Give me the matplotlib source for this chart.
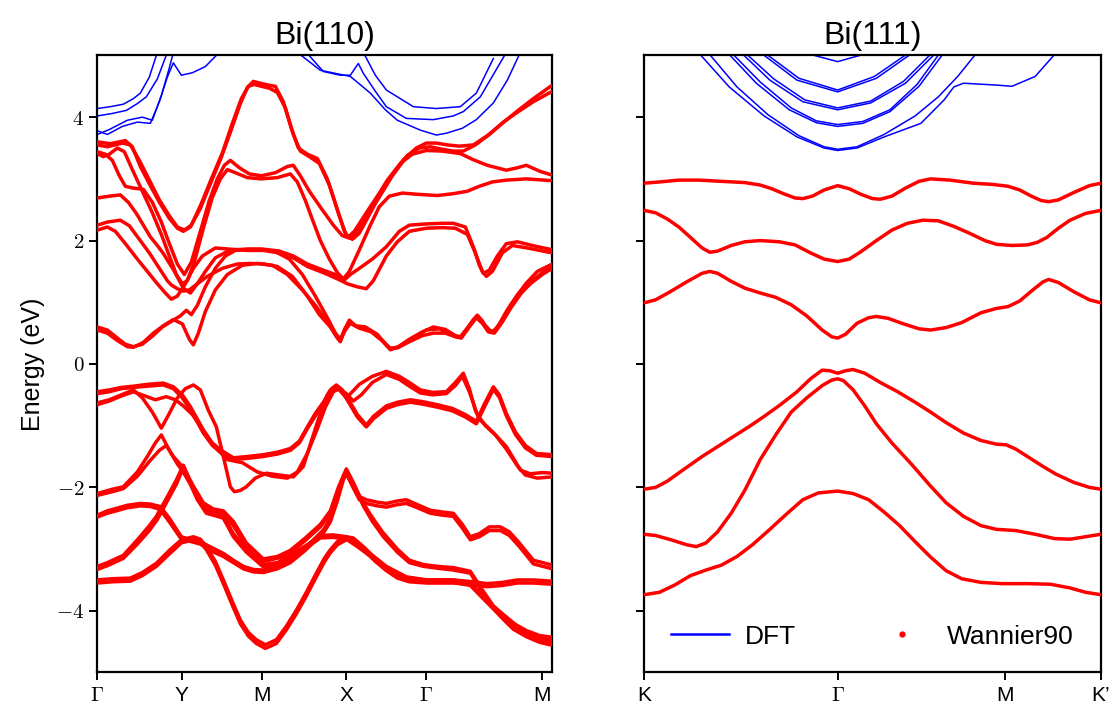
import matplotlib
matplotlib.use("Agg")
import matplotlib.pyplot as plt
from matplotlib.lines import Line2D

plt.rcParams['font.family'] = ['Liberation Sans', 'DejaVu Sans']
plt.rcParams['mathtext.fontset'] = 'cm'

# ---------------- Bi(110): path G-Y-M-X-G-M ----------------
k110_ticks = [0.0, 0.844, 1.644, 2.487, 3.287, 4.444]
k110_labels = [r'$\Gamma$', 'Y', 'M', 'X', r'$\Gamma$', 'M']
k110_end = 4.55

# DFT only bands (above the Wannier window)
b110_d1 = [(0, 4.14), (0.13, 4.17), (0.26, 4.21), (0.36, 4.30), (0.43, 4.39), (0.52, 4.65), (0.60, 5.05)]
b110_d2 = [(0, 4.02), (0.15, 4.06), (0.29, 4.11), (0.40, 4.22), (0.49, 4.33), (0.60, 4.62), (0.70, 5.05)]
b110_d3 = [(0, 3.78), (0.10, 3.72), (0.25, 3.85), (0.40, 3.92), (0.53, 3.90), (0.62, 4.25), (0.70, 4.65),
           (0.76, 4.88), (0.84, 4.68), (0.95, 4.72), (1.08, 4.82), (1.22, 5.05)]
b110_d4 = [(0, 3.72), (0.12, 3.80), (0.30, 3.95), (0.45, 4.00), (0.55, 3.95), (0.64, 4.35), (0.72, 4.80), (0.76, 5.05)]
b110_d5 = [(2.09, 5.05), (2.26, 4.74), (2.43, 4.68), (2.53, 4.68), (2.61, 4.87), (2.66, 4.71), (2.78, 4.42),
           (2.89, 4.17), (3.09, 3.98), (3.36, 3.96), (3.56, 4.02), (3.66, 4.09), (3.83, 4.33), (4.09, 5.05)]
b110_d6 = [(2.00, 5.05), (2.23, 4.76), (2.53, 4.66), (2.73, 4.39), (2.88, 4.12), (3.00, 3.95), (3.23, 3.79),
           (3.39, 3.71), (3.49, 3.74), (3.65, 3.82), (3.79, 3.96), (3.96, 4.23), (4.10, 4.60), (4.23, 5.05)]
b110_d7 = [(2.66, 5.05), (2.78, 4.68), (2.89, 4.44), (3.16, 4.17), (3.39, 4.14), (3.63, 4.17), (3.79, 4.39), (3.96, 4.95)]

# Wannier90 bands (coincide with DFT)
w110_c1 = [(0, 3.60), (0.13, 3.57), (0.28, 3.62), (0.35, 3.52), (0.43, 3.20), (0.52, 2.92), (0.62, 2.62), (0.72, 2.36),
           (0.80, 2.20), (0.86, 2.15), (0.93, 2.22), (1.03, 2.52), (1.13, 2.92), (1.24, 3.35), (1.34, 3.80), (1.43, 4.22),
           (1.50, 4.48), (1.56, 4.58), (1.63, 4.55), (1.71, 4.52), (1.78, 4.50), (1.86, 4.25), (1.94, 3.82), (2.01, 3.50),
           (2.10, 3.40), (2.20, 3.33), (2.30, 3.00), (2.40, 2.50), (2.47, 2.15), (2.51, 2.06), (2.57, 2.15), (2.73, 2.55),
           (2.89, 2.93), (3.06, 3.31), (3.19, 3.50), (3.29, 3.58), (3.39, 3.58), (3.50, 3.55), (3.62, 3.53), (3.76, 3.55),
           (3.90, 3.70), (4.05, 3.90), (4.20, 4.10), (4.36, 4.30), (4.55, 4.52)]
w110_c2 = [(0, 3.55), (0.10, 3.52), (0.25, 3.58), (0.33, 3.55), (0.42, 3.30), (0.52, 2.98), (0.62, 2.66), (0.72, 2.40),
           (0.80, 2.22), (0.87, 2.17), (0.94, 2.25), (1.04, 2.60), (1.14, 3.00), (1.25, 3.42), (1.35, 3.90), (1.44, 4.30),
           (1.51, 4.50), (1.57, 4.53), (1.64, 4.50), (1.72, 4.47), (1.80, 4.40), (1.88, 4.15), (1.96, 3.72), (2.03, 3.45),
           (2.12, 3.36), (2.22, 3.25), (2.32, 2.90), (2.42, 2.40), (2.49, 2.08), (2.55, 2.02), (2.62, 2.12), (2.78, 2.60),
           (2.95, 3.05), (3.10, 3.38), (3.22, 3.50), (3.33, 3.52), (3.45, 3.48), (3.56, 3.45), (3.66, 3.45), (3.78, 3.55),
           (3.92, 3.72), (4.06, 3.92), (4.20, 4.08), (4.36, 4.25), (4.55, 4.42)]
w110_c3 = [(0, 3.44), (0.08, 3.40), (0.15, 3.30), (0.22, 3.05), (0.28, 2.88), (0.36, 2.85), (0.46, 2.83), (0.55, 2.62),
           (0.64, 2.30), (0.72, 1.95), (0.80, 1.62), (0.87, 1.45), (0.94, 1.65), (1.03, 2.15), (1.12, 2.65), (1.20, 3.00),
           (1.27, 3.22), (1.33, 3.30), (1.42, 3.18), (1.52, 3.08), (1.64, 3.05), (1.78, 3.10), (1.90, 3.20), (1.96, 3.22),
           (2.03, 3.05), (2.12, 2.80), (2.24, 2.52), (2.36, 2.25), (2.45, 2.08), (2.52, 2.04), (2.60, 2.15), (2.75, 2.58),
           (2.90, 2.98), (3.03, 3.25), (3.15, 3.40), (3.29, 3.46), (3.45, 3.45), (3.63, 3.41), (3.76, 3.31), (3.90, 3.22),
           (4.09, 3.14), (4.20, 3.18), (4.29, 3.22), (4.43, 3.12), (4.55, 3.06)]
w110_c4 = [(0, 3.41), (0.06, 3.36), (0.12, 3.40), (0.20, 3.50), (0.27, 3.44), (0.35, 3.15), (0.45, 2.80), (0.55, 2.45),
           (0.64, 2.10), (0.72, 1.75), (0.79, 1.45), (0.85, 1.30), (0.90, 1.35), (0.97, 1.65), (1.06, 2.20), (1.15, 2.70),
           (1.23, 3.00), (1.30, 3.15), (1.38, 3.10), (1.50, 3.02), (1.64, 3.00), (1.80, 3.02), (1.93, 3.08), (2.00, 2.95),
           (2.08, 2.65), (2.16, 2.30), (2.23, 2.00), (2.32, 1.70), (2.40, 1.48), (2.47, 1.36), (2.53, 1.45), (2.62, 1.55),
           (2.75, 1.70), (2.89, 1.90), (3.02, 2.15), (3.12, 2.25), (3.29, 2.27), (3.45, 2.28), (3.56, 2.28), (3.68, 2.22),
           (3.76, 1.90), (3.82, 1.60), (3.86, 1.47), (3.92, 1.52), (4.00, 1.75), (4.09, 1.95), (4.20, 1.98), (4.35, 1.92),
           (4.55, 1.85)]
w110_c5 = [(0, 2.69), (0.12, 2.72), (0.23, 2.74), (0.31, 2.62), (0.39, 2.44), (0.46, 2.25), (0.53, 2.06), (0.60, 1.92),
           (0.66, 1.79), (0.76, 1.53), (0.86, 1.23), (0.93, 1.15), (1.00, 1.30), (1.08, 1.50), (1.18, 1.72), (1.33, 1.85),
           (1.50, 1.86), (1.66, 1.86), (1.82, 1.83), (1.96, 1.75), (2.10, 1.62), (2.26, 1.52), (2.38, 1.45), (2.46, 1.38),
           (2.52, 1.50), (2.62, 1.85), (2.73, 2.25), (2.82, 2.55), (2.92, 2.72), (3.05, 2.77), (3.20, 2.75), (3.40, 2.73),
           (3.56, 2.76), (3.70, 2.80), (3.82, 2.88), (3.95, 2.95), (4.09, 2.98), (4.29, 3.00), (4.55, 2.97)]
w110_c6 = [(0, 2.25), (0.10, 2.30), (0.23, 2.33), (0.32, 2.24), (0.42, 2.02), (0.52, 1.80), (0.62, 1.55), (0.70, 1.35),
           (0.74, 1.28), (0.80, 1.22), (0.86, 1.18), (0.92, 1.20), (1.00, 1.30), (1.10, 1.42), (1.25, 1.55), (1.40, 1.62),
           (1.53, 1.63), (1.66, 1.62), (1.80, 1.58), (1.95, 1.42), (2.10, 1.10), (2.22, 0.80), (2.33, 0.60), (2.40, 0.42),
           (2.43, 0.36), (2.47, 0.55), (2.52, 0.71), (2.58, 0.62), (2.68, 0.60), (2.80, 0.48), (2.88, 0.32), (2.93, 0.23),
           (3.00, 0.27), (3.12, 0.40), (3.25, 0.52), (3.36, 0.60), (3.48, 0.56), (3.58, 0.46), (3.63, 0.44), (3.70, 0.58),
           (3.76, 0.72), (3.80, 0.79), (3.85, 0.70), (3.90, 0.55), (3.96, 0.52), (4.02, 0.65), (4.10, 0.88), (4.20, 1.12),
           (4.29, 1.31), (4.40, 1.50), (4.55, 1.62)]
w110_c7 = [(0, 2.17), (0.10, 2.22), (0.18, 2.15), (0.28, 1.95), (0.40, 1.70), (0.50, 1.50), (0.60, 1.30), (0.68, 1.15),
           (0.74, 1.05), (0.80, 1.10), (0.88, 1.30), (0.96, 1.55), (1.05, 1.75), (1.18, 1.88), (1.33, 1.86), (1.50, 1.84),
           (1.66, 1.84), (1.82, 1.80), (1.96, 1.72), (2.10, 1.58), (2.26, 1.48), (2.40, 1.38), (2.50, 1.30), (2.60, 1.25),
           (2.69, 1.22), (2.76, 1.35), (2.89, 1.75), (3.00, 1.98), (3.12, 2.15), (3.29, 2.20), (3.45, 2.21), (3.58, 2.20),
           (3.70, 2.10), (3.78, 1.80), (3.85, 1.50), (3.89, 1.42), (3.95, 1.50), (4.05, 1.80), (4.15, 1.92), (4.30, 1.88),
           (4.55, 1.80)]
w110_c8 = [(0, 0.60), (0.10, 0.55), (0.20, 0.42), (0.28, 0.32), (0.36, 0.28), (0.45, 0.32), (0.55, 0.45), (0.65, 0.60),
           (0.75, 0.70), (0.83, 0.78), (0.89, 0.87), (0.94, 0.80), (1.00, 0.95), (1.08, 1.25), (1.18, 1.55), (1.28, 1.75),
           (1.38, 1.84), (1.50, 1.86), (1.64, 1.86), (1.78, 1.82), (1.92, 1.70), (2.05, 1.45), (2.18, 1.10), (2.30, 0.75),
           (2.38, 0.50), (2.43, 0.40), (2.48, 0.58), (2.53, 0.68), (2.60, 0.60), (2.72, 0.55), (2.84, 0.40), (2.92, 0.26),
           (3.00, 0.26), (3.12, 0.36), (3.25, 0.46), (3.36, 0.50), (3.48, 0.50), (3.58, 0.44), (3.64, 0.42), (3.72, 0.60),
           (3.79, 0.75), (3.85, 0.66), (3.91, 0.52), (3.97, 0.50), (4.05, 0.68), (4.14, 0.92), (4.24, 1.15), (4.35, 1.35),
           (4.45, 1.48), (4.55, 1.58)]
w110_c9 = [(0, 0.55), (0.10, 0.50), (0.20, 0.38), (0.30, 0.28), (0.36, 0.27), (0.46, 0.35), (0.56, 0.50), (0.66, 0.62),
           (0.76, 0.72), (0.85, 0.65), (0.92, 0.40), (0.96, 0.31), (1.01, 0.50), (1.08, 0.85), (1.18, 1.20), (1.30, 1.45),
           (1.45, 1.60), (1.60, 1.63), (1.75, 1.60), (1.90, 1.45), (2.05, 1.20), (2.18, 0.95), (2.30, 0.68), (2.38, 0.48),
           (2.43, 0.38), (2.48, 0.55), (2.53, 0.66), (2.62, 0.58), (2.74, 0.52), (2.86, 0.36), (2.93, 0.25), (3.02, 0.28),
           (3.15, 0.42), (3.29, 0.55), (3.42, 0.57), (3.55, 0.47), (3.63, 0.43), (3.71, 0.60), (3.80, 0.78), (3.87, 0.64),
           (3.94, 0.52), (4.00, 0.58), (4.10, 0.85), (4.22, 1.12), (4.33, 1.30), (4.45, 1.45), (4.55, 1.55)]

w110_v1 = [(0, -0.45), (0.12, -0.42), (0.24, -0.38), (0.36, -0.36), (0.50, -0.33), (0.66, -0.31), (0.76, -0.37),
           (0.85, -0.50), (0.93, -0.69), (1.06, -1.07), (1.15, -1.28), (1.23, -1.39), (1.36, -1.52), (1.50, -1.50),
           (1.66, -1.47), (1.80, -1.43), (1.93, -1.37), (2.02, -1.25), (2.10, -1.02), (2.18, -0.80), (2.26, -0.62),
           (2.33, -0.42), (2.39, -0.34), (2.45, -0.42), (2.52, -0.60), (2.60, -0.82), (2.69, -0.99), (2.76, -0.85),
           (2.89, -0.68), (3.00, -0.62), (3.13, -0.58), (3.25, -0.61), (3.40, -0.66), (3.55, -0.72), (3.68, -0.82),
           (3.79, -0.93), (3.87, -0.65), (3.96, -0.37), (4.02, -0.50), (4.09, -0.80), (4.18, -1.10), (4.28, -1.32),
           (4.39, -1.45), (4.55, -1.47)]
w110_v2 = [(0, -0.48), (0.12, -0.45), (0.24, -0.40), (0.36, -0.38), (0.50, -0.36), (0.66, -0.34), (0.76, -0.40),
           (0.85, -0.55), (0.93, -0.74), (1.06, -1.12), (1.15, -1.32), (1.23, -1.43), (1.36, -1.55), (1.50, -1.53),
           (1.66, -1.50), (1.80, -1.46), (1.93, -1.40), (2.02, -1.28), (2.10, -1.05), (2.18, -0.84), (2.26, -0.66),
           (2.33, -0.46), (2.39, -0.38), (2.45, -0.45), (2.52, -0.64), (2.60, -0.86), (2.69, -1.02), (2.76, -0.89),
           (2.89, -0.72), (3.00, -0.66), (3.13, -0.62), (3.25, -0.65), (3.40, -0.70), (3.55, -0.76), (3.68, -0.86),
           (3.79, -0.97), (3.87, -0.70), (3.96, -0.41), (4.02, -0.54), (4.09, -0.84), (4.18, -1.14), (4.28, -1.36),
           (4.39, -1.48), (4.55, -1.50)]
w110_v3 = [(0, -0.63), (0.12, -0.58), (0.24, -0.50), (0.36, -0.42), (0.45, -0.55), (0.55, -0.78), (0.64, -1.04),
           (0.72, -0.80), (0.80, -0.55), (0.88, -0.40), (0.96, -0.34), (1.03, -0.42), (1.11, -0.75), (1.19, -1.02),
           (1.26, -1.50), (1.33, -1.99), (1.37, -2.07), (1.43, -2.05), (1.49, -1.99), (1.58, -1.85), (1.69, -1.77),
           (1.82, -1.80), (1.96, -1.83), (2.06, -1.66), (2.14, -1.25), (2.22, -0.85), (2.30, -0.50), (2.36, -0.38),
           (2.42, -0.42), (2.49, -0.55), (2.55, -0.45), (2.62, -0.33), (2.75, -0.20), (2.89, -0.12), (3.02, -0.20),
           (3.12, -0.30), (3.23, -0.42), (3.35, -0.46), (3.49, -0.45), (3.58, -0.30), (3.66, -0.15), (3.72, -0.40),
           (3.78, -0.75), (3.83, -0.91), (3.92, -1.05), (4.00, -1.18), (4.09, -1.34), (4.18, -1.58), (4.23, -1.72),
           (4.33, -1.78), (4.45, -1.76), (4.55, -1.77)]
w110_v4 = [(0, -0.66), (0.12, -0.60), (0.24, -0.52), (0.36, -0.45), (0.48, -0.52), (0.58, -0.58), (0.69, -0.53),
           (0.78, -0.58), (0.86, -0.68), (0.95, -0.82), (1.05, -1.05), (1.15, -1.30), (1.30, -1.55), (1.45, -1.60),
           (1.60, -1.75), (1.75, -1.82), (1.90, -1.85), (2.00, -1.75), (2.10, -1.45), (2.20, -1.05), (2.28, -0.70),
           (2.36, -0.45), (2.42, -0.40), (2.49, -0.48), (2.56, -0.60), (2.64, -0.50), (2.75, -0.30), (2.89, -0.17),
           (3.02, -0.25), (3.12, -0.36), (3.23, -0.47), (3.35, -0.50), (3.49, -0.48), (3.58, -0.35), (3.65, -0.20),
           (3.72, -0.45), (3.80, -0.82), (3.88, -1.00), (3.98, -1.15), (4.09, -1.38), (4.20, -1.65), (4.28, -1.80),
           (4.40, -1.85), (4.55, -1.83)]
w110_v5 = [(0, -2.10), (0.15, -2.03), (0.26, -1.99), (0.40, -1.75), (0.50, -1.50), (0.58, -1.28), (0.64, -1.15),
           (0.72, -1.40), (0.80, -1.62), (0.88, -1.80), (0.97, -2.05), (1.06, -2.31), (1.16, -2.40), (1.26, -2.42),
           (1.36, -2.62), (1.49, -2.96), (1.66, -3.20), (1.80, -3.15), (1.93, -3.07), (2.08, -2.86), (2.23, -2.64),
           (2.33, -2.42), (2.41, -2.05), (2.49, -1.72), (2.57, -2.00), (2.66, -2.30), (2.75, -2.55), (2.86, -2.80),
           (3.00, -3.05), (3.12, -3.22), (3.26, -3.28), (3.40, -3.31), (3.56, -3.34), (3.73, -3.39), (3.85, -3.70),
           (3.96, -3.95), (4.06, -4.10), (4.18, -4.27), (4.29, -4.37), (4.42, -4.44), (4.55, -4.47)]
w110_v6 = [(0, -2.13), (0.15, -2.07), (0.26, -2.02), (0.40, -1.82), (0.52, -1.58), (0.62, -1.40), (0.69, -1.32),
           (0.76, -1.50), (0.86, -1.68), (0.95, -1.95), (1.06, -2.25), (1.16, -2.35), (1.26, -2.38), (1.36, -2.55),
           (1.49, -2.90), (1.66, -3.16), (1.80, -3.12), (1.93, -3.02), (2.08, -2.82), (2.23, -2.60), (2.33, -2.38),
           (2.41, -2.00), (2.49, -1.70), (2.56, -1.92), (2.64, -2.20), (2.73, -2.44), (2.85, -2.72), (3.00, -3.00),
           (3.12, -3.18), (3.26, -3.25), (3.40, -3.28), (3.56, -3.30), (3.73, -3.36), (3.85, -3.66), (3.96, -3.92),
           (4.06, -4.06), (4.18, -4.22), (4.29, -4.32), (4.42, -4.40), (4.55, -4.43)]
w110_v7 = [(0, -2.45), (0.10, -2.38), (0.19, -2.34), (0.30, -2.29), (0.43, -2.26), (0.53, -2.27), (0.63, -2.31),
           (0.72, -2.50), (0.84, -2.80), (0.94, -2.85), (1.03, -2.88), (1.15, -2.98), (1.26, -3.07), (1.36, -3.18),
           (1.46, -3.28), (1.56, -3.33), (1.66, -3.34), (1.80, -3.28), (1.93, -3.18), (2.08, -2.98), (2.26, -2.69),
           (2.33, -2.50), (2.40, -2.15), (2.46, -1.82), (2.49, -1.74), (2.55, -1.92), (2.62, -2.15), (2.69, -2.20),
           (2.80, -2.24), (2.89, -2.26), (3.00, -2.22), (3.09, -2.20), (3.20, -2.28), (3.33, -2.37), (3.45, -2.40),
           (3.56, -2.42), (3.65, -2.60), (3.73, -2.80), (3.82, -2.75), (3.92, -2.64), (4.03, -2.64), (4.12, -2.72),
           (4.22, -2.90), (4.36, -3.18), (4.55, -3.26)]
w110_v8 = [(0, -2.48), (0.10, -2.42), (0.19, -2.38), (0.30, -2.33), (0.43, -2.30), (0.53, -2.31), (0.63, -2.36),
           (0.72, -2.56), (0.84, -2.84), (0.94, -2.88), (1.03, -2.92), (1.15, -3.04), (1.26, -3.12), (1.36, -3.22),
           (1.46, -3.32), (1.56, -3.37), (1.66, -3.38), (1.80, -3.32), (1.93, -3.22), (2.08, -3.02), (2.26, -2.74),
           (2.33, -2.56), (2.40, -2.22), (2.46, -1.88), (2.49, -1.78), (2.55, -1.98), (2.62, -2.20), (2.69, -2.26),
           (2.80, -2.30), (2.89, -2.32), (3.00, -2.28), (3.09, -2.26), (3.20, -2.33), (3.33, -2.42), (3.45, -2.45),
           (3.56, -2.47), (3.65, -2.66), (3.73, -2.85), (3.82, -2.80), (3.92, -2.70), (4.03, -2.70), (4.12, -2.78),
           (4.22, -2.96), (4.36, -3.24), (4.55, -3.32)]
w110_v9 = [(0, -3.28), (0.10, -3.22), (0.26, -3.10), (0.40, -2.85), (0.52, -2.62), (0.59, -2.47), (0.70, -2.15),
           (0.79, -1.88), (0.86, -1.64), (0.93, -1.90), (1.00, -2.15), (1.09, -2.37), (1.20, -2.42), (1.26, -2.45),
           (1.36, -2.75), (1.49, -3.00), (1.66, -3.25), (1.80, -3.22), (1.93, -3.10), (2.08, -2.95), (2.23, -2.78),
           (2.36, -2.77), (2.49, -2.80), (2.60, -2.92), (2.75, -3.10), (2.89, -3.28), (3.09, -3.45), (3.30, -3.50),
           (3.56, -3.50), (3.73, -3.55), (3.85, -3.75), (3.96, -3.93), (4.06, -4.10), (4.16, -4.26), (4.29, -4.38),
           (4.42, -4.47), (4.55, -4.52)]
w110_v10 = [(0, -3.33), (0.10, -3.27), (0.26, -3.15), (0.40, -2.92), (0.52, -2.70), (0.60, -2.52), (0.70, -2.22),
            (0.79, -1.95), (0.85, -1.72), (0.93, -1.95), (1.00, -2.20), (1.09, -2.42), (1.20, -2.47), (1.26, -2.50),
            (1.36, -2.80), (1.49, -3.05), (1.66, -3.29), (1.80, -3.26), (1.93, -3.14), (2.08, -2.99), (2.23, -2.82),
            (2.36, -2.81), (2.49, -2.84), (2.60, -2.96), (2.75, -3.14), (2.89, -3.32), (3.09, -3.49), (3.30, -3.54),
            (3.56, -3.54), (3.73, -3.59), (3.85, -3.79), (3.96, -3.97), (4.06, -4.14), (4.16, -4.30), (4.29, -4.42),
            (4.42, -4.51), (4.55, -4.56)]
w110_v11 = [(0, -3.50), (0.15, -3.48), (0.33, -3.47), (0.45, -3.38), (0.59, -3.23), (0.72, -3.02), (0.84, -2.85),
            (0.96, -2.80), (1.03, -2.84), (1.09, -2.96), (1.18, -3.20), (1.26, -3.50), (1.35, -3.85), (1.43, -4.15),
            (1.51, -4.35), (1.59, -4.47), (1.68, -4.55), (1.79, -4.47), (1.89, -4.25), (1.99, -3.99), (2.09, -3.70),
            (2.19, -3.39), (2.27, -3.15), (2.33, -3.01), (2.40, -2.88), (2.49, -2.80), (2.56, -2.82), (2.66, -2.96),
            (2.78, -3.15), (2.89, -3.30), (3.00, -3.42), (3.12, -3.48), (3.29, -3.50), (3.56, -3.50), (3.76, -3.53),
            (3.90, -3.56), (4.05, -3.54), (4.20, -3.50), (4.36, -3.50), (4.55, -3.52)]
w110_v12 = [(0, -3.55), (0.15, -3.53), (0.33, -3.52), (0.45, -3.43), (0.59, -3.28), (0.72, -3.08), (0.84, -2.90),
            (0.96, -2.85), (1.03, -2.89), (1.09, -3.01), (1.18, -3.26), (1.26, -3.56), (1.35, -3.91), (1.43, -4.21),
            (1.51, -4.41), (1.59, -4.53), (1.68, -4.61), (1.79, -4.53), (1.89, -4.31), (1.99, -4.05), (2.09, -3.76),
            (2.19, -3.45), (2.27, -3.21), (2.33, -3.06), (2.40, -2.93), (2.49, -2.85), (2.56, -2.87), (2.66, -3.01),
            (2.78, -3.20), (2.89, -3.35), (3.00, -3.47), (3.12, -3.53), (3.29, -3.55), (3.56, -3.55), (3.76, -3.58),
            (3.90, -3.61), (4.05, -3.59), (4.20, -3.55), (4.36, -3.55), (4.55, -3.57)]

# ---------------- Bi(111): path K-G-M-K' ----------------
k111_ticks = [0.0, 1.0, 1.866, 2.36]
k111_labels = ['K', r'$\Gamma$', 'M', "K\u2019"]
k111_end = 2.36

b111_d1 = [(0.28, 5.05), (0.44, 4.49), (0.62, 4.02), (0.79, 3.68), (0.93, 3.50), (1.0, 3.46), (1.10, 3.50),
           (1.24, 3.68), (1.43, 3.90), (1.55, 4.28), (1.60, 4.49), (1.65, 4.55), (1.82, 4.52), (1.90, 4.50),
           (2.02, 4.66), (2.13, 5.05)]
b111_d2 = [(0.33, 5.05), (0.48, 4.49), (0.64, 4.04), (0.80, 3.70), (0.93, 3.52), (1.0, 3.48), (1.10, 3.52),
           (1.24, 3.72), (1.40, 4.02), (1.52, 4.33), (1.62, 4.66), (1.72, 5.05)]
b111_d3 = [(0.43, 5.05), (0.58, 4.55), (0.75, 4.12), (0.89, 3.91), (1.0, 3.85), (1.13, 3.90), (1.27, 4.09),
           (1.42, 4.50), (1.55, 5.05)]
b111_d4 = [(0.45, 5.05), (0.60, 4.57), (0.76, 4.15), (0.89, 3.94), (1.0, 3.88), (1.13, 3.93), (1.27, 4.12),
           (1.41, 4.53), (1.53, 5.05)]
b111_d5 = [(0.50, 5.05), (0.65, 4.60), (0.82, 4.25), (1.0, 4.12), (1.17, 4.23), (1.35, 4.55), (1.51, 5.05)]
b111_d6 = [(0.52, 5.05), (0.67, 4.62), (0.83, 4.28), (1.0, 4.15), (1.17, 4.26), (1.34, 4.58), (1.49, 5.05)]
b111_d7 = [(0.60, 5.05), (0.79, 4.60), (1.0, 4.41), (1.20, 4.63), (1.39, 5.05)]
b111_d8 = [(0.62, 5.05), (0.80, 4.63), (1.0, 4.44), (1.19, 4.66), (1.37, 5.05)]
b111_d9 = [(0.82, 5.05), (1.0, 4.90), (1.17, 5.05)]

w111_c1 = [(0, 2.93), (0.08, 2.95), (0.18, 2.98), (0.28, 2.98), (0.40, 2.96), (0.52, 2.94), (0.60, 2.90), (0.66, 2.84),
           (0.72, 2.76), (0.78, 2.69), (0.82, 2.68), (0.87, 2.72), (0.93, 2.82), (1.00, 2.89), (1.06, 2.84), (1.12, 2.75),
           (1.18, 2.68), (1.22, 2.67), (1.28, 2.72), (1.35, 2.85), (1.42, 2.96), (1.48, 3.00), (1.58, 2.98), (1.70, 2.93),
           (1.80, 2.91), (1.88, 2.88), (1.94, 2.82), (2.00, 2.72), (2.05, 2.65), (2.09, 2.63), (2.14, 2.66), (2.22, 2.78),
           (2.30, 2.89), (2.36, 2.93)]
w111_c2 = [(0, 2.49), (0.06, 2.45), (0.12, 2.35), (0.18, 2.22), (0.24, 2.05), (0.30, 1.88), (0.34, 1.81), (0.38, 1.83),
           (0.45, 1.92), (0.52, 1.98), (0.60, 2.00), (0.70, 1.98), (0.78, 1.93), (0.86, 1.80), (0.93, 1.70), (1.00, 1.66),
           (1.06, 1.70), (1.12, 1.82), (1.20, 2.00), (1.28, 2.17), (1.36, 2.28), (1.44, 2.33), (1.52, 2.32), (1.60, 2.23),
           (1.68, 2.12), (1.76, 2.00), (1.82, 1.94), (1.90, 1.92), (1.98, 1.93), (2.03, 1.97), (2.08, 2.05), (2.14, 2.20),
           (2.20, 2.33), (2.28, 2.44), (2.36, 2.49)]
w111_c3 = [(0, 0.99), (0.06, 1.04), (0.14, 1.18), (0.22, 1.33), (0.30, 1.47), (0.34, 1.50), (0.38, 1.47), (0.45, 1.34),
           (0.52, 1.23), (0.60, 1.15), (0.68, 1.08), (0.76, 0.96), (0.84, 0.78), (0.92, 0.55), (0.97, 0.44), (1.00, 0.42),
           (1.04, 0.48), (1.10, 0.66), (1.16, 0.75), (1.20, 0.77), (1.26, 0.74), (1.34, 0.65), (1.42, 0.57), (1.48, 0.55),
           (1.56, 0.59), (1.64, 0.67), (1.74, 0.83), (1.82, 0.90), (1.88, 0.93), (1.94, 1.02), (2.00, 1.18), (2.06, 1.33),
           (2.09, 1.37), (2.14, 1.32), (2.22, 1.17), (2.30, 1.04), (2.36, 0.99)]
w111_v1 = [(0, -2.03), (0.06, -2.00), (0.12, -1.90), (0.20, -1.72), (0.30, -1.50), (0.38, -1.34), (0.45, -1.20),
           (0.55, -1.00), (0.62, -0.85), (0.70, -0.67), (0.79, -0.45), (0.86, -0.24), (0.92, -0.10), (0.96, -0.11),
           (1.00, -0.15), (1.04, -0.11), (1.08, -0.09), (1.14, -0.15), (1.22, -0.30), (1.31, -0.45), (1.40, -0.62),
           (1.48, -0.78), (1.56, -0.95), (1.65, -1.12), (1.74, -1.24), (1.82, -1.30), (1.87, -1.31), (1.92, -1.38),
           (1.98, -1.50), (2.06, -1.66), (2.13, -1.79), (2.22, -1.92), (2.30, -2.00), (2.36, -2.03)]
w111_v2 = [(0, -2.76), (0.06, -2.78), (0.14, -2.85), (0.22, -2.93), (0.27, -2.96), (0.32, -2.90), (0.38, -2.72),
           (0.45, -2.42), (0.52, -2.05), (0.60, -1.55), (0.68, -1.15), (0.76, -0.78), (0.84, -0.55), (0.92, -0.35),
           (0.97, -0.26), (1.00, -0.24), (1.03, -0.27), (1.08, -0.42), (1.14, -0.68), (1.20, -0.97), (1.28, -1.28),
           (1.38, -1.62), (1.48, -1.98), (1.56, -2.25), (1.65, -2.47), (1.74, -2.62), (1.82, -2.68), (1.92, -2.70),
           (2.02, -2.76), (2.12, -2.83), (2.20, -2.84), (2.28, -2.80), (2.36, -2.76)]
w111_v3 = [(0, -3.74), (0.08, -3.70), (0.16, -3.58), (0.24, -3.43), (0.32, -3.34), (0.40, -3.26), (0.48, -3.12),
           (0.56, -2.93), (0.65, -2.68), (0.74, -2.42), (0.82, -2.20), (0.90, -2.09), (1.00, -2.06), (1.08, -2.10),
           (1.16, -2.20), (1.24, -2.40), (1.32, -2.62), (1.40, -2.88), (1.48, -3.13), (1.56, -3.35), (1.64, -3.48),
           (1.74, -3.54), (1.85, -3.56), (1.98, -3.56), (2.10, -3.57), (2.20, -3.63), (2.28, -3.70), (2.36, -3.74)]

dft_only_110 = [b110_d1, b110_d2, b110_d3, b110_d4, b110_d5, b110_d6, b110_d7]
wannier_110 = [w110_c1, w110_c2, w110_c3, w110_c4, w110_c5, w110_c6, w110_c7, w110_c8, w110_c9,
               w110_v1, w110_v2, w110_v3, w110_v4, w110_v5, w110_v6, w110_v7, w110_v8, w110_v9, w110_v10,
               w110_v11, w110_v12]
dft_only_111 = [b111_d1, b111_d2, b111_d3, b111_d4, b111_d5, b111_d6, b111_d7, b111_d8, b111_d9]
wannier_111 = [w111_c1, w111_c2, w111_c3, w111_v1, w111_v2, w111_v3]

e_ticks = [-4, -2, 0, 2, 4]
e_labels = ['$-4$', '$-2$', '$0$', '$2$', '$4$']


def draw_panel(ax, dft_only, wannier, ticks, labels, k_end, title):
    for band in dft_only + wannier:
        k, e = zip(*band)
        ax.plot(k, e, color='blue', lw=1.1, zorder=2, solid_joinstyle='round')
    for band in wannier:
        k, e = zip(*band)
        ax.plot(k, e, color='red', lw=2.5, zorder=3, solid_capstyle='round', solid_joinstyle='round')
    ax.set_xlim(0, k_end)
    ax.set_ylim(-5, 5)
    ax.set_xticks(ticks)
    ax.set_xticklabels(labels, fontsize=15)
    ax.set_yticks(e_ticks)
    ax.set_title(title, fontsize=23, pad=8)
    ax.tick_params(direction='out', length=6, width=1.4)
    for sp in ax.spines.values():
        sp.set_linewidth(1.6)


fig = plt.figure(figsize=(11.1, 7.12), dpi=100)
ax1 = fig.add_axes([0.0877, 0.0555, 0.4099, 0.8666])
ax2 = fig.add_axes([0.5802, 0.0555, 0.4117, 0.8666])

draw_panel(ax1, dft_only_110, wannier_110, k110_ticks, k110_labels, k110_end, 'Bi(110)')
ax1.set_yticklabels(e_labels, fontsize=15)
ax1.set_ylabel('Energy (eV)', fontsize=18, labelpad=8)

draw_panel(ax2, dft_only_111, wannier_111, k111_ticks, k111_labels, k111_end, 'Bi(111)')
ax2.set_yticklabels([])

handles = [Line2D([], [], color='blue', lw=1.8),
           Line2D([], [], color='red', marker='o', ls='none', markersize=3.5)]
ax2.legend(handles, ['DFT', 'Wannier90'], loc='lower center', ncol=2, frameon=False,
           fontsize=19, handlelength=2.2, columnspacing=2.9, handletextpad=0.6)

fig.savefig('out.png', dpi=100)
